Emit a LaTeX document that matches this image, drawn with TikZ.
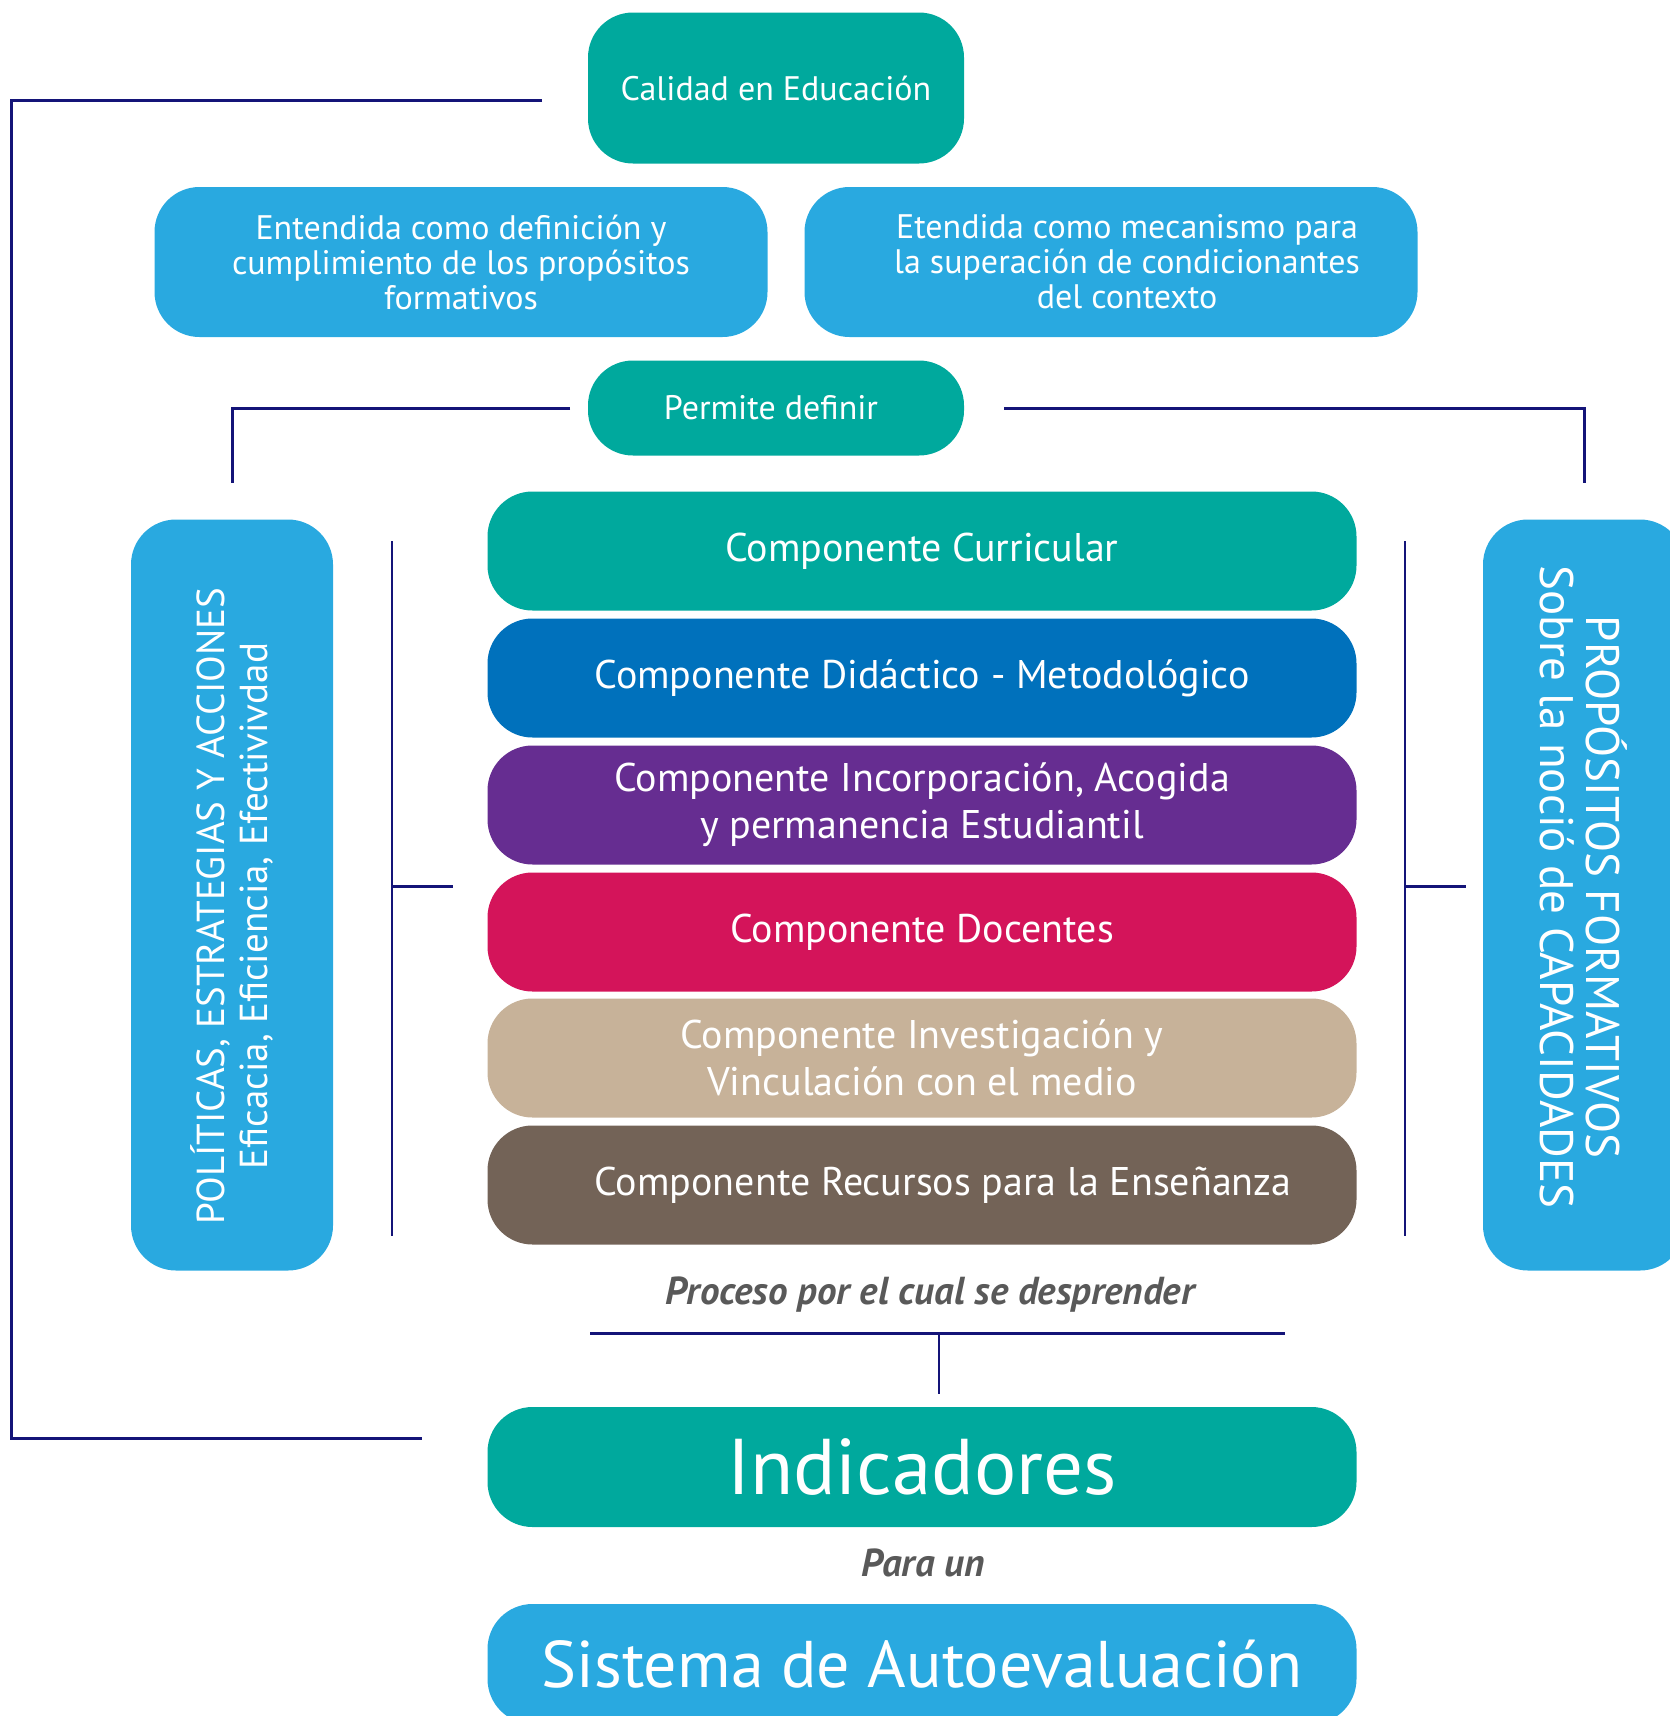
\documentclass[tikz,border=0pt]{standalone}
\usepackage{fontspec}
\setmainfont{PT Sans}
\usetikzlibrary{positioning,calc}
\definecolor{tealA}{HTML}{00A99D}
\definecolor{skyA}{HTML}{29A9E0}
\definecolor{blueA}{HTML}{0071BC}
\definecolor{purpleA}{HTML}{662D91}
\definecolor{roseA}{HTML}{D4145A}
\definecolor{tanA}{HTML}{C7B299}
\definecolor{brownA}{HTML}{736357}
\definecolor{navyA}{HTML}{141478}
\definecolor{grayA}{HTML}{595959}

\begin{document}
\begin{tikzpicture}[x=1pt,y=-1pt,
	box/.style={rounded corners=45pt,text=white,align=center,inner sep=0pt},
	topbox/.style={box,fill=skyA,minimum width=613pt,minimum height=150pt,font=\fontsize{34}{35}\selectfont},
	comp/.style={box,minimum width=869pt,minimum height=119pt,font=\fontsize{40}{47}\selectfont},
	sidebox/.style={box,fill=skyA,minimum width=751pt,minimum height=202pt},
	link/.style={navyA,line width=3pt},
	thinlink/.style={navyA,line width=2pt},
	note/.style={text=grayA,font=\fontsize{39}{44}\selectfont\bfseries\itshape}]
	\useasboundingbox (0,0) rectangle (1670,1716);
	\clip (0,0) rectangle (1670,1716);
	% top
	\node[box,fill=tealA,minimum width=376pt,minimum height=151pt,font=\fontsize{34}{36}\selectfont] (calidad) at (776,88) {Calidad en Educación};
	\node[topbox] (entendida) at (461,262) {Entendida como definición y\\cumplimiento de los propósitos\\formativos};
	\node[topbox] (etendida) at (1111,262) {\hspace*{32pt}Etendida como mecanismo para\\\hspace*{32pt}la superación de condicionantes\\\hspace*{32pt}del contexto};
	\node[box,fill=tealA,minimum width=376pt,minimum height=95pt,font=\fontsize{34}{36}\selectfont] (permite) at (776,408) {Permite definir\hspace*{10pt}};
	% sides
	\node[sidebox,rotate=90,font=\fontsize{39}{43}\selectfont] (politicas) at (232,895) {POLÍTICAS, ESTRATEGIAS Y ACCIONES\hspace*{22pt}\\Eficacia, Eficiencia, Efectivivdad\hspace*{22pt}};
	\node[sidebox,rotate=-90,font=\fontsize{47}{46}\selectfont] (propositos) at (1584,895) {PROPÓSITOS FORMATIVOS\hspace*{16pt}\\Sobre la noció de CAPACIDADES\hspace*{16pt}};
	% components
	\node[comp,fill=tealA] (curricular) at (922,551) {Componente Curricular};
	\node[comp,fill=blueA] (didactico) at (922,678) {Componente Didáctico - Metodológico};
	\node[comp,fill=purpleA] (incorporacion) at (922,805) {Componente Incorporación, Acogida\\y permanencia Estudiantil};
	\node[comp,fill=roseA] (docentes) at (922,932) {Componente Docentes};
	\node[comp,fill=tanA] (investigacion) at (922,1058) {Componente Investigación y\\Vinculación con el medio};
	\node[comp,fill=brownA] (recursos) at (922,1185) {\hspace*{42pt}Componente Recursos para la Enseñanza};
	\node[note] (proceso) at (930,1295) {Proceso por el cual se desprender};
	% bottom
	\node[comp,fill=tealA,minimum height=120pt,font=\fontsize{79}{90}\selectfont] (indicadores) at (922,1467) {Indicadores};
	\node[note] (paraun) at (923,1563) {Para un};
	\node[comp,fill=skyA,minimum height=120pt,font=\fontsize{66}{80}\selectfont] (sistema) at (922,1664) {Sistema de Autoevaluación};
	% lines
	\coordinate (calL) at (542,100);
	\coordinate (indL) at (422,1438);
	\draw[link] (calL) -- (11,100) -- (11,1438) -- (indL);
	\coordinate (perL) at (570,408);
	\coordinate (perR) at (1004,408);
	\draw[link] (perL) -- (232,408) -- (232,483);
	\draw[link] (perR) -- (1584,408) -- (1584,483);
	\draw[thinlink] (392,541) -- (392,1236);
	\draw[link] (392,886) -- (453,886);
	\draw[thinlink] (1405,541) -- (1405,1236);
	\draw[link] (1405,886) -- (1466,886);
	\draw[link] (590,1333) -- (1285,1333);
	\draw[thinlink] (939,1333) -- (939,1394);
\end{tikzpicture}
\end{document}
